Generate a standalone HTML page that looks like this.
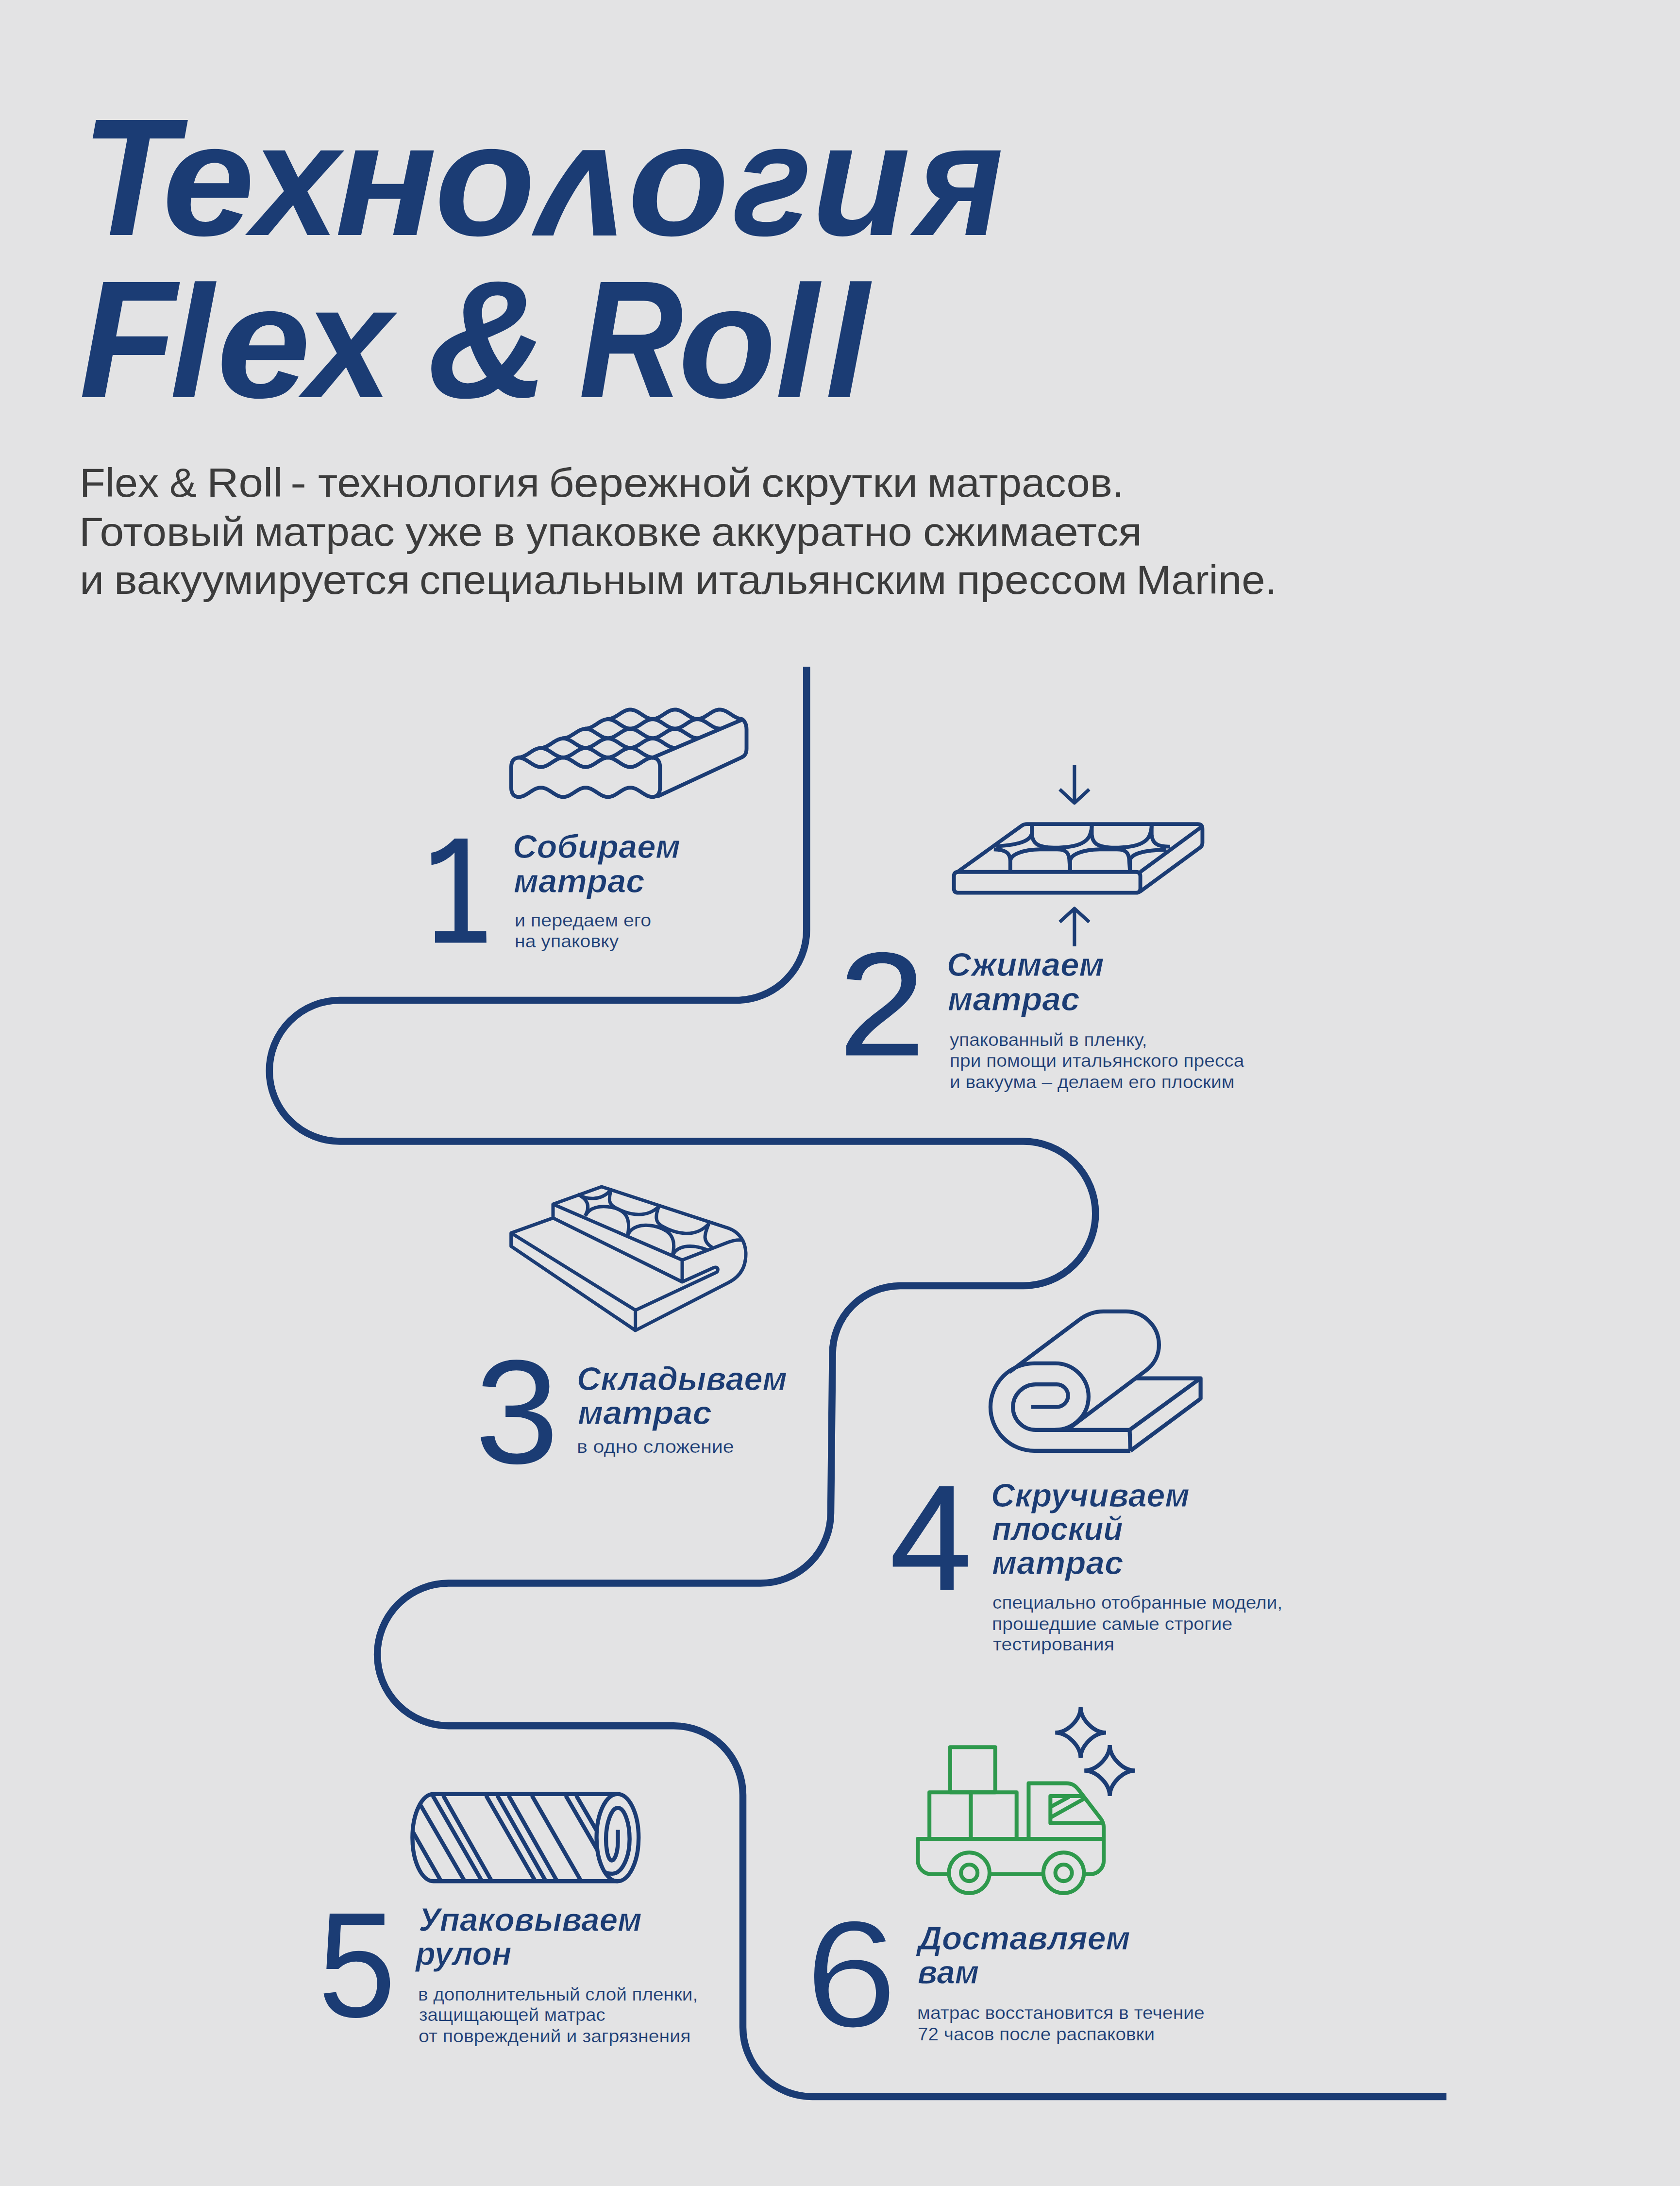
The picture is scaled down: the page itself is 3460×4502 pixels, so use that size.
<!DOCTYPE html>
<html lang="ru"><head><meta charset="utf-8"><title>Технология Flex &amp; Roll</title>
<style>
html,body{margin:0;padding:0}
body{width:3460px;height:4502px;background:#e3e3e4;position:relative;overflow:hidden;font-family:"Liberation Sans",sans-serif}
span{position:absolute;line-height:1;white-space:pre;transform-origin:0 0;display:block}
.ti{font-weight:700;font-style:italic;color:#1b3c74;}.p{color:#3c3c3c;}.h{font-weight:700;font-style:italic;color:#1b3c74;-webkit-text-stroke:1.0px #e3e3e4;}.s{color:#1b3c74;-webkit-text-stroke:0.25px #e3e3e4;}.d{color:#1b3c74;}
.gs::before{content:"s"}
</style></head><body>
<svg width="3460" height="4502" viewBox="0 0 3460 4502" style="position:absolute;left:0;top:0"><path d="M1661.3 1373 V1915 A145 145 0 0 1 1516.3 2060 H700 A145.2 145.2 0 0 0 700 2350.5 H2107.5 A148.7 148.7 0 0 1 2107.5 2648 H1854 A140 140 0 0 0 1714.6 2788 L1711 3115 A145 145 0 0 1 1566 3260.6 H923.7 A146.8 146.8 0 0 0 923.7 3554.2 H1387.5 A142.5 142.5 0 0 1 1530 3696.7 V4175 A143 143 0 0 0 1673 4318 H2979" fill="none" stroke="#1b3c74" stroke-width="14.5"/><g fill="none" stroke="#1b3c74" stroke-width="7.9" stroke-linejoin="round" stroke-linecap="round"><path d="M1067.9 1560.4 L1070.4 1560.5 L1072.9 1561 L1075.4 1561.6 L1077.9 1562.5 L1080.3 1563.7 L1082.8 1565 L1085.3 1566.5 L1087.8 1568 L1090.3 1569.6 L1092.8 1571.3 L1095.3 1572.9 L1097.8 1574.4 L1100.3 1575.8 L1102.7 1577 L1105.2 1578 L1107.7 1578.8 L1110.2 1579.4 L1112.7 1579.7 L1115.2 1579.7 L1117.7 1579.4 L1120.2 1578.8 L1122.7 1578 L1125.2 1577 L1127.6 1575.8 L1130.1 1574.4 L1132.6 1572.9 L1135.1 1571.3 L1137.6 1569.6 L1140.1 1568 L1142.6 1566.5 L1145.1 1565 L1147.6 1563.7 L1150 1562.5 L1152.5 1561.6 L1155 1561 L1157.5 1560.5 L1160 1560.4 L1162.5 1560.5 L1165 1561 L1167.5 1561.6 L1170 1562.5 L1172.4 1563.7 L1174.9 1565 L1177.4 1566.5 L1179.9 1568 L1182.4 1569.6 L1184.9 1571.3 L1187.4 1572.9 L1189.9 1574.4 L1192.4 1575.8 L1194.8 1577 L1197.3 1578 L1199.8 1578.8 L1202.3 1579.4 L1204.8 1579.7 L1207.3 1579.7 L1209.8 1579.4 L1212.3 1578.8 L1214.8 1578 L1217.3 1577 L1219.7 1575.8 L1222.2 1574.4 L1224.7 1572.9 L1227.2 1571.3 L1229.7 1569.6 L1232.2 1568 L1234.7 1566.5 L1237.2 1565 L1239.7 1563.7 L1242.1 1562.5 L1244.6 1561.6 L1247.1 1561 L1249.6 1560.5 L1252.1 1560.4 L1254.6 1560.5 L1257.1 1561 L1259.6 1561.6 L1262.1 1562.5 L1264.5 1563.7 L1267 1565 L1269.5 1566.5 L1272 1568 L1274.5 1569.6 L1277 1571.3 L1279.5 1572.9 L1282 1574.4 L1284.5 1575.8 L1286.9 1577 L1289.4 1578 L1291.9 1578.8 L1294.4 1579.4 L1296.9 1579.7 L1299.4 1579.7 L1301.9 1579.4 L1304.4 1578.8 L1306.9 1578 L1309.4 1577 L1311.8 1575.8 L1314.3 1574.4 L1316.8 1572.9 L1319.3 1571.3 L1321.8 1569.6 L1324.3 1568 L1326.8 1566.5 L1329.3 1565 L1331.8 1563.7 L1334.2 1562.5 L1336.7 1561.6 L1339.2 1561 L1341.7 1560.5 L1344.2 1560.4"/><path d="M1067.9 1559.9 L1070.4 1559.8 L1072.9 1559.3 L1075.4 1558.7 L1077.9 1557.8 L1080.3 1556.6 L1082.8 1555.3 L1085.3 1553.8 L1087.8 1552.3 L1090.3 1550.7 L1092.8 1549 L1095.3 1547.4 L1097.8 1545.9 L1100.3 1544.5 L1102.7 1543.3 L1105.2 1542.3 L1107.7 1541.5 L1110.2 1540.9 L1112.7 1540.6 L1115.2 1540.6 L1117.7 1540.9 L1120.2 1541.5 L1122.7 1542.3 L1125.2 1543.3 L1127.6 1544.5 L1130.1 1545.9 L1132.6 1547.4 L1135.1 1549 L1137.6 1550.7 L1140.1 1552.3 L1142.6 1553.8 L1145.1 1555.3 L1147.6 1556.6 L1150 1557.8 L1152.5 1558.7 L1155 1559.3 L1157.5 1559.8 L1160 1559.9 L1162.5 1559.8 L1165 1559.3 L1167.5 1558.7 L1170 1557.8 L1172.4 1556.6 L1174.9 1555.3 L1177.4 1553.8 L1179.9 1552.3 L1182.4 1550.7 L1184.9 1549 L1187.4 1547.4 L1189.9 1545.9 L1192.4 1544.5 L1194.8 1543.3 L1197.3 1542.3 L1199.8 1541.5 L1202.3 1540.9 L1204.8 1540.6 L1207.3 1540.6 L1209.8 1540.9 L1212.3 1541.5 L1214.8 1542.3 L1217.3 1543.3 L1219.7 1544.5 L1222.2 1545.9 L1224.7 1547.4 L1227.2 1549 L1229.7 1550.7 L1232.2 1552.3 L1234.7 1553.8 L1237.2 1555.3 L1239.7 1556.6 L1242.1 1557.8 L1244.6 1558.7 L1247.1 1559.3 L1249.6 1559.8 L1252.1 1559.9 L1254.6 1559.8 L1257.1 1559.3 L1259.6 1558.7 L1262.1 1557.8 L1264.5 1556.6 L1267 1555.3 L1269.5 1553.8 L1272 1552.3 L1274.5 1550.7 L1277 1549 L1279.5 1547.4 L1282 1545.9 L1284.5 1544.5 L1286.9 1543.3 L1289.4 1542.3 L1291.9 1541.5 L1294.4 1540.9 L1296.9 1540.6 L1299.4 1540.6 L1301.9 1540.9 L1304.4 1541.5 L1306.9 1542.3 L1309.4 1543.3 L1311.8 1544.5 L1314.3 1545.9 L1316.8 1547.4 L1319.3 1549 L1321.8 1550.7 L1324.3 1552.3 L1326.8 1553.8 L1329.3 1555.3 L1331.8 1556.6 L1334.2 1557.8 L1336.7 1558.7 L1339.2 1559.3 L1341.7 1559.8 L1344.2 1559.9"/><path d="M1114 1540.1 L1116.4 1540 L1118.9 1539.5 L1121.4 1538.9 L1123.9 1538 L1126.4 1536.8 L1128.9 1535.5 L1131.4 1534 L1133.9 1532.5 L1136.4 1530.9 L1138.8 1529.2 L1141.3 1527.6 L1143.8 1526.1 L1146.3 1524.7 L1148.8 1523.5 L1151.3 1522.5 L1153.8 1521.7 L1156.3 1521.1 L1158.8 1520.8 L1161.2 1520.8 L1163.7 1521.1 L1166.2 1521.7 L1168.7 1522.5 L1171.2 1523.5 L1173.7 1524.7 L1176.2 1526.1 L1178.7 1527.6 L1181.2 1529.2 L1183.6 1530.9 L1186.1 1532.5 L1188.6 1534 L1191.1 1535.5 L1193.6 1536.8 L1196.1 1538 L1198.6 1538.9 L1201.1 1539.5 L1203.6 1540 L1206 1540.1 L1208.5 1540 L1211 1539.5 L1213.5 1538.9 L1216 1538 L1218.5 1536.8 L1221 1535.5 L1223.5 1534 L1226 1532.5 L1228.5 1530.9 L1230.9 1529.2 L1233.4 1527.6 L1235.9 1526.1 L1238.4 1524.7 L1240.9 1523.5 L1243.4 1522.5 L1245.9 1521.7 L1248.4 1521.1 L1250.9 1520.8 L1253.3 1520.8 L1255.8 1521.1 L1258.3 1521.7 L1260.8 1522.5 L1263.3 1523.5 L1265.8 1524.7 L1268.3 1526.1 L1270.8 1527.6 L1273.3 1529.2 L1275.7 1530.9 L1278.2 1532.5 L1280.7 1534 L1283.2 1535.5 L1285.7 1536.8 L1288.2 1538 L1290.7 1538.9 L1293.2 1539.5 L1295.7 1540 L1298.2 1540.1 L1300.6 1540 L1303.1 1539.5 L1305.6 1538.9 L1308.1 1538 L1310.6 1536.8 L1313.1 1535.5 L1315.6 1534 L1318.1 1532.5 L1320.6 1530.9 L1323 1529.2 L1325.5 1527.6 L1328 1526.1 L1330.5 1524.7 L1333 1523.5 L1335.5 1522.5 L1338 1521.7 L1340.5 1521.1 L1343 1520.8 L1345.4 1520.8 L1347.9 1521.1 L1350.4 1521.7 L1352.9 1522.5 L1355.4 1523.5 L1357.9 1524.7 L1360.4 1526.1 L1362.9 1527.6 L1365.4 1529.2 L1367.8 1530.9 L1370.3 1532.5 L1372.8 1534 L1375.3 1535.5 L1377.8 1536.8 L1380.3 1538 L1382.8 1538.9 L1385.3 1539.5 L1387.8 1540 L1390.2 1540.1"/><path d="M1160 1520.3 L1162.5 1520.2 L1165 1519.7 L1167.5 1519.1 L1170 1518.2 L1172.4 1517 L1174.9 1515.7 L1177.4 1514.2 L1179.9 1512.7 L1182.4 1511.1 L1184.9 1509.4 L1187.4 1507.8 L1189.9 1506.3 L1192.4 1504.9 L1194.8 1503.7 L1197.3 1502.7 L1199.8 1501.9 L1202.3 1501.3 L1204.8 1501 L1207.3 1501 L1209.8 1501.3 L1212.3 1501.9 L1214.8 1502.7 L1217.3 1503.7 L1219.7 1504.9 L1222.2 1506.3 L1224.7 1507.8 L1227.2 1509.4 L1229.7 1511.1 L1232.2 1512.7 L1234.7 1514.2 L1237.2 1515.7 L1239.7 1517 L1242.1 1518.2 L1244.6 1519.1 L1247.1 1519.7 L1249.6 1520.2 L1252.1 1520.3 L1254.6 1520.2 L1257.1 1519.7 L1259.6 1519.1 L1262.1 1518.2 L1264.5 1517 L1267 1515.7 L1269.5 1514.2 L1272 1512.7 L1274.5 1511.1 L1277 1509.4 L1279.5 1507.8 L1282 1506.3 L1284.5 1504.9 L1286.9 1503.7 L1289.4 1502.7 L1291.9 1501.9 L1294.4 1501.3 L1296.9 1501 L1299.4 1501 L1301.9 1501.3 L1304.4 1501.9 L1306.9 1502.7 L1309.4 1503.7 L1311.8 1504.9 L1314.3 1506.3 L1316.8 1507.8 L1319.3 1509.4 L1321.8 1511.1 L1324.3 1512.7 L1326.8 1514.2 L1329.3 1515.7 L1331.8 1517 L1334.2 1518.2 L1336.7 1519.1 L1339.2 1519.7 L1341.7 1520.2 L1344.2 1520.3 L1346.7 1520.2 L1349.2 1519.7 L1351.7 1519.1 L1354.2 1518.2 L1356.6 1517 L1359.1 1515.7 L1361.6 1514.2 L1364.1 1512.7 L1366.6 1511.1 L1369.1 1509.4 L1371.6 1507.8 L1374.1 1506.3 L1376.6 1504.9 L1379 1503.7 L1381.5 1502.7 L1384 1501.9 L1386.5 1501.3 L1389 1501 L1391.5 1501 L1394 1501.3 L1396.5 1501.9 L1399 1502.7 L1401.5 1503.7 L1403.9 1504.9 L1406.4 1506.3 L1408.9 1507.8 L1411.4 1509.4 L1413.9 1511.1 L1416.4 1512.7 L1418.9 1514.2 L1421.4 1515.7 L1423.9 1517 L1426.3 1518.2 L1428.8 1519.1 L1431.3 1519.7 L1433.8 1520.2 L1436.3 1520.3"/><path d="M1206.1 1500.5 L1208.5 1500.4 L1211 1499.9 L1213.5 1499.3 L1216 1498.4 L1218.5 1497.2 L1221 1495.9 L1223.5 1494.4 L1226 1492.9 L1228.5 1491.3 L1230.9 1489.6 L1233.4 1488 L1235.9 1486.5 L1238.4 1485.1 L1240.9 1483.9 L1243.4 1482.9 L1245.9 1482.1 L1248.4 1481.5 L1250.9 1481.2 L1253.3 1481.2 L1255.8 1481.5 L1258.3 1482.1 L1260.8 1482.9 L1263.3 1483.9 L1265.8 1485.1 L1268.3 1486.5 L1270.8 1488 L1273.3 1489.6 L1275.7 1491.3 L1278.2 1492.9 L1280.7 1494.4 L1283.2 1495.9 L1285.7 1497.2 L1288.2 1498.4 L1290.7 1499.3 L1293.2 1499.9 L1295.7 1500.4 L1298.2 1500.5 L1300.6 1500.4 L1303.1 1499.9 L1305.6 1499.3 L1308.1 1498.4 L1310.6 1497.2 L1313.1 1495.9 L1315.6 1494.4 L1318.1 1492.9 L1320.6 1491.3 L1323 1489.6 L1325.5 1488 L1328 1486.5 L1330.5 1485.1 L1333 1483.9 L1335.5 1482.9 L1338 1482.1 L1340.5 1481.5 L1343 1481.2 L1345.4 1481.2 L1347.9 1481.5 L1350.4 1482.1 L1352.9 1482.9 L1355.4 1483.9 L1357.9 1485.1 L1360.4 1486.5 L1362.9 1488 L1365.4 1489.6 L1367.8 1491.3 L1370.3 1492.9 L1372.8 1494.4 L1375.3 1495.9 L1377.8 1497.2 L1380.3 1498.4 L1382.8 1499.3 L1385.3 1499.9 L1387.8 1500.4 L1390.3 1500.5 L1392.7 1500.4 L1395.2 1499.9 L1397.7 1499.3 L1400.2 1498.4 L1402.7 1497.2 L1405.2 1495.9 L1407.7 1494.4 L1410.2 1492.9 L1412.7 1491.3 L1415.1 1489.6 L1417.6 1488 L1420.1 1486.5 L1422.6 1485.1 L1425.1 1483.9 L1427.6 1482.9 L1430.1 1482.1 L1432.6 1481.5 L1435.1 1481.2 L1437.5 1481.2 L1440 1481.5 L1442.5 1482.1 L1445 1482.9 L1447.5 1483.9 L1450 1485.1 L1452.5 1486.5 L1455 1488 L1457.5 1489.6 L1459.9 1491.3 L1462.4 1492.9 L1464.9 1494.4 L1467.4 1495.9 L1469.9 1497.2 L1472.4 1498.4 L1474.9 1499.3 L1477.4 1499.9 L1479.9 1500.4 L1482.4 1500.5"/><path d="M1252.1 1480.7 L1254.6 1480.6 L1257.1 1480.1 L1259.6 1479.5 L1262.1 1478.5 L1264.6 1477.4 L1267.1 1476 L1269.7 1474.6 L1272.2 1473 L1274.7 1471.4 L1277.2 1469.7 L1279.7 1468.1 L1282.2 1466.6 L1284.7 1465.2 L1287.2 1464 L1289.7 1463 L1292.2 1462.2 L1294.7 1461.7 L1297.2 1461.4 L1299.7 1461.5 L1302.2 1461.8 L1304.8 1462.4 L1307.3 1463.2 L1309.8 1464.3 L1312.3 1465.5 L1314.8 1467 L1317.3 1468.5 L1319.8 1470.1 L1322.3 1471.8 L1324.8 1473.4 L1327.3 1475 L1329.8 1476.4 L1332.3 1477.7 L1334.8 1478.8 L1337.3 1479.7 L1339.9 1480.3 L1342.4 1480.6 L1344.9 1480.7 L1347.4 1480.5 L1349.9 1480 L1352.4 1479.2 L1354.9 1478.2 L1357.4 1477 L1359.9 1475.7 L1362.4 1474.2 L1364.9 1472.6 L1367.4 1470.9 L1369.9 1469.3 L1372.5 1467.7 L1375 1466.2 L1377.5 1464.8 L1380 1463.7 L1382.5 1462.7 L1385 1462 L1387.5 1461.6 L1390 1461.4 L1392.5 1461.5 L1395 1461.9 L1397.5 1462.6 L1400 1463.5 L1402.5 1464.6 L1405 1465.9 L1407.6 1467.4 L1410.1 1469 L1412.6 1470.6 L1415.1 1472.2 L1417.6 1473.8 L1420.1 1475.4 L1422.6 1476.8 L1425.1 1478 L1427.6 1479.1 L1430.1 1479.9 L1432.6 1480.4 L1435.1 1480.7 L1437.6 1480.7 L1440.2 1480.4 L1442.7 1479.8 L1445.2 1479 L1447.7 1477.9 L1450.2 1476.7 L1452.7 1475.3 L1455.2 1473.7 L1457.7 1472.1 L1460.2 1470.5 L1462.7 1468.8 L1465.2 1467.3 L1467.7 1465.8 L1470.2 1464.5 L1472.7 1463.4 L1475.3 1462.5 L1477.8 1461.9 L1480.3 1461.5 L1482.8 1461.4 L1485.3 1461.6 L1487.8 1462.1 L1490.3 1462.8 L1492.8 1463.8 L1495.3 1464.9 L1497.8 1466.3 L1500.3 1467.8 L1502.8 1469.4 L1505.3 1471 L1507.8 1472.7 L1510.4 1474.3 L1512.9 1475.8 L1515.4 1477.1 L1517.9 1478.3 L1520.4 1479.3 L1522.9 1480 L1525.4 1480.5"/><path d="M1067.9 1641.4 L1070.2 1641.3 L1072.5 1640.9 L1074.8 1640.3 L1077.1 1639.6 L1079.4 1638.6 L1081.7 1637.4 L1084 1636.1 L1086.3 1634.7 L1088.6 1633.3 L1090.9 1631.8 L1093.2 1630.2 L1095.5 1628.8 L1097.8 1627.4 L1100.1 1626.1 L1102.4 1624.9 L1104.7 1623.9 L1107 1623.2 L1109.3 1622.6 L1111.6 1622.2 L1114 1622.1 L1116.3 1622.2 L1118.6 1622.6 L1120.9 1623.2 L1123.2 1623.9 L1125.5 1624.9 L1127.8 1626.1 L1130.1 1627.4 L1132.4 1628.8 L1134.7 1630.2 L1137 1631.8 L1139.3 1633.3 L1141.6 1634.7 L1143.9 1636.1 L1146.2 1637.4 L1148.5 1638.6 L1150.8 1639.6 L1153.1 1640.3 L1155.4 1640.9 L1157.7 1641.3 L1160 1641.4 L1162.3 1641.3 L1164.6 1640.9 L1166.9 1640.3 L1169.2 1639.6 L1171.5 1638.6 L1173.8 1637.4 L1176.1 1636.1 L1178.4 1634.7 L1180.7 1633.3 L1183 1631.8 L1185.3 1630.2 L1187.6 1628.8 L1189.9 1627.4 L1192.2 1626.1 L1194.5 1624.9 L1196.8 1623.9 L1199.1 1623.2 L1201.4 1622.6 L1203.7 1622.2 L1206.1 1622.1 L1208.4 1622.2 L1210.7 1622.6 L1213 1623.2 L1215.3 1623.9 L1217.6 1624.9 L1219.9 1626.1 L1222.2 1627.4 L1224.5 1628.8 L1226.8 1630.2 L1229.1 1631.8 L1231.4 1633.3 L1233.7 1634.7 L1236 1636.1 L1238.3 1637.4 L1240.6 1638.6 L1242.9 1639.6 L1245.2 1640.3 L1247.5 1640.9 L1249.8 1641.3 L1252.1 1641.4 L1254.4 1641.3 L1256.7 1640.9 L1259 1640.3 L1261.3 1639.6 L1263.6 1638.6 L1265.9 1637.4 L1268.2 1636.1 L1270.5 1634.7 L1272.8 1633.3 L1275.1 1631.8 L1277.4 1630.2 L1279.7 1628.8 L1282 1627.4 L1284.3 1626.1 L1286.6 1624.9 L1288.9 1623.9 L1291.2 1623.2 L1293.5 1622.6 L1295.8 1622.2 L1298.2 1622.1 L1300.5 1622.2 L1302.8 1622.6 L1305.1 1623.2 L1307.4 1623.9 L1309.7 1624.9 L1312 1626.1 L1314.3 1627.4 L1316.6 1628.8 L1318.9 1630.2 L1321.2 1631.8 L1323.5 1633.3 L1325.8 1634.7 L1328.1 1636.1 L1330.4 1637.4 L1332.7 1638.6 L1335 1639.6 L1337.3 1640.3 L1339.6 1640.9 L1341.9 1641.3 L1344.2 1641.4"/><path d="M1067.9 1560.4 C1058 1561 1052.9 1568 1052.9 1580 V1622 C1052.9 1634 1058 1641 1067.9 1641.4"/><path d="M1344.2 1560.4 C1354 1561 1359.3 1568 1359.3 1580 V1622 C1359.3 1634 1354 1641 1344.2 1641.4"/><path d="M1344.2 1560.4 L1525.4 1483.5"/><path d="M1525.4 1480.5 C1530 1480.5 1537.5 1488 1537.5 1502 V1542 C1537.5 1552 1534 1557 1527 1560 L1355.5 1639.6"/></g><g transform="translate(1920 1540) scale(0.35714)" fill="none" stroke="#1b3c74" stroke-width="22" stroke-linejoin="round" ><path d="M150 716 H1175 Q1200 716 1200 741 V811 Q1200 836 1175 836 H150 Q125 836 125 811 V741 Q125 716 150 716Z"/><path d="M140 720 L518 448 Q530 440 545 440 H1530 Q1558 440 1558 468 V548 Q1558 565 1545 575 L1195 832"/><path d="M1200 716 L1550 458"/><path d="M575 446 V500 C578 545 600 575 700 576 C800 577 890 560 910 500 C917 480 920 460 920 446"/><path d="M920 446 V500 C923 545 945 575 1045 576 C1145 577 1235 560 1255 500 C1262 480 1265 460 1265 446"/><path d="M1265 446 V500 C1268 545 1290 572 1372 570"/><path d="M575 446 V490 C570 530 520 560 368 568"/><path d="M450 712 V650 C455 615 520 588 620 586 H720 C765 586 785 600 790 640 L795 712"/><path d="M795 712 V650 C800 615 865 588 965 586 H1065 C1110 586 1130 600 1135 640 L1140 712"/><path d="M1140 712 V650 C1145 615 1210 590 1350 588"/><path d="M450 650 C448 610 430 588 355 586"/><path d="M820 100 V315 M735 240 L820 318 L905 240 M820 1145 V930 M735 1005 L820 927 L905 1005" stroke-width="20"/></g><g transform="translate(1020 2420) scale(0.33333)" fill="none" stroke="#1b3c74" stroke-width="21" stroke-linejoin="round" ><path d="M357 265 L98 358 V440 L866 960 L1440 665 C1520 625 1550 560 1548 480 C1545 400 1500 350 1440 328 L657 72 L357 180 V265"/><path d="M98 358 L866 835 V960"/><path d="M1155 660 L1350 572 Q1375 565 1375 585 Q1375 598 1360 604 L866 835"/><path d="M357 180 L1155 525 V660 L357 265"/><path d="M1155 525 L1440 415 C1480 400 1510 398 1535 405"/><path d="M510 118 C560 150 650 165 715 92"/><path d="M510 118 C570 150 590 190 555 252"/><path d="M715 92 C700 150 700 180 740 200 C800 235 920 280 1010 195"/><path d="M557 252 C580 200 650 185 720 200 C800 215 840 260 818 372"/><path d="M1010 195 C990 250 985 290 1030 315 C1100 355 1230 400 1320 300"/><path d="M818 372 C840 320 900 300 980 315 C1070 335 1125 380 1095 497"/><path d="M1320 300 C1290 370 1280 410 1340 447"/><path d="M1095 497 C1120 440 1200 420 1310 462"/></g><g transform="translate(2000 2670) scale(0.30952)" fill="none" stroke="#1b3c74" stroke-width="26.5" stroke-linejoin="round" ><path d="M400 735 H570 A75 75 0 0 0 570 585 H430 A151.5 151.5 0 0 0 430 888 H1055"/><path d="M560 888 A221.5 221.5 0 0 0 560 445 H420 A291 291 0 0 0 420 1027 H1060"/><path d="M1055 888 L1060 1027"/><path d="M1055 888 L1525 545"/><path d="M1090 545 H1527 V680 L1060 1027"/><path d="M255 503 L720 155 C770 118 820 100 880 100 H1030 C1150 100 1250 200 1250 322 C1250 395 1215 455 1160 495 L660 872"/></g><g transform="translate(820 3670) scale(0.30952)" fill="none" stroke="#1b3c74" stroke-width="27" stroke-linejoin="round" ><path d="M1460 80 H235 A140 290 0 0 0 235 660 H1460"/><ellipse cx="1460" cy="370" rx="140" ry="290"/><path d="M100 335 L280 650 M150 155 L440 655 M230 90 L555 655 M300 90 L620 655 M585 90 L910 655 M660 90 L980 655 M735 90 L1055 655 M890 90 L1215 655 M1115 90 L1325 452 M1185 90 L1322 326"/><path d="M1462 318 V400 C1462 470 1440 522 1422 522 C1395 522 1383 440 1383 380 C1383 270 1420 172 1462 172 C1505 172 1540 270 1540 380 C1540 500 1490 610 1425 610 C1405 610 1385 606 1373 597"/></g><g transform="translate(1860 3490) scale(0.30952)" fill="none" stroke="#2e994c" stroke-width="26" stroke-linejoin="round" ><path d="M1335 960 H98 V1105 A90 90 0 0 0 188 1195 H300 M580 1195 H925 M1210 1195 H1245 A90 90 0 0 0 1335 1105 V885"/><path d="M835 960 V590 H1085 C1125 590 1145 605 1165 630 L1315 825 C1330 845 1335 865 1335 885"/><path d="M1195 675 H980 V855 H1330"/><path d="M980 748 L1105 680"/><path d="M980 818 L1205 692"/><circle cx="440" cy="1186" r="135"/><circle cx="440" cy="1186" r="55"/><circle cx="1068" cy="1186" r="135"/><circle cx="1068" cy="1186" r="55"/><rect x="175" y="650" width="275" height="310"/><rect x="450" y="650" width="305" height="310"/><rect x="313" y="350" width="300" height="300"/></g><g transform="translate(1860 3490) scale(0.30952)" fill="none" stroke="#1b3c74" stroke-width="27" stroke-linejoin="bevel" ><path d="M1181.2 84 C1181.2 165.3 1269.2 253.3 1350.5 253.3 C1269.2 253.3 1181.2 341.3 1181.2 422.6 C1181.2 341.3 1093.2 253.3 1011.9 253.3 C1093.2 253.3 1181.2 165.3 1181.2 84Z"/><path d="M1375 336.3 C1375 417.6 1463 505.6 1544.3 505.6 C1463 505.6 1375 593.6 1375 674.9 C1375 593.6 1287 505.6 1205.7 505.6 C1287 505.6 1375 417.6 1375 336.3Z"/></g><g transform="translate(860 1700) scale(0.11896)"><path d="M640 228 H865 L870 1828 H1188 L1192 2030 H302 V1828 H640 V468 C540 580 370 672 240 682 L237 472 C370 460 520 350 640 228Z" fill="#1b3c74"/></g><g transform="translate(650 230) scale(0.41667)"><path d="M1068 612 C1130 450 1230 290 1320 190 L1430 190 L1487 612 L1373 612 L1350 290 C1290 370 1220 480 1175 612Z" fill="#1b3c74"/></g></svg>
<div><span class="ti" style="left:167.5px;top:193.4px;font-size:344.5px;transform:scale(0.9329,1.0000);transform-origin:0 291.6px">Т</span><span class="ti" style="left:333.7px;top:193.4px;font-size:344.5px;transform:scale(0.9942,0.9570);transform-origin:0 291.6px">е</span><span class="ti" style="left:519.0px;top:193.4px;font-size:344.5px;transform:scale(0.9358,0.9570);transform-origin:0 291.6px">х</span><span class="ti" style="left:689.7px;top:193.4px;font-size:344.5px;transform:scale(1.0108,0.9570);transform-origin:0 291.6px">н</span><span class="ti" style="left:894.6px;top:193.4px;font-size:344.5px;transform:scale(0.9862,0.9570);transform-origin:0 291.6px">о</span><span class="ti" style="left:1106.0px;top:193.4px;font-size:344.5px;visibility:hidden;transform:scale(0.7865,0.9570);transform-origin:0 291.6px">л</span><span class="ti" style="left:1293.3px;top:193.4px;font-size:344.5px;transform:scale(0.9926,0.9570);transform-origin:0 291.6px">о</span><span style="visibility:hidden">г</span><span class="ti gs" style="left:1654.1px;top:193.4px;font-size:344.5px;font-style:normal;transform:scale(0.8429,0.9570) skewX(-12deg) scaleX(-1);transform-origin:0 291.6px"></span><span class="ti" style="left:1671.9px;top:193.4px;font-size:344.5px;transform:scale(0.9653,0.9570);transform-origin:0 291.6px">и</span><span class="ti" style="left:1888.2px;top:193.4px;font-size:344.5px;transform:scale(0.8792,0.9570);transform-origin:0 291.6px">я</span></div>
<div><span class="ti" style="left:163.1px;top:526.7px;font-size:344.5px;transform:scale(0.9528,1.0000);transform-origin:0 291.6px">F</span><span class="ti" style="left:349.7px;top:526.7px;font-size:344.5px;transform:scale(0.9432,0.9570);transform-origin:0 291.6px">l</span><span class="ti" style="left:446.4px;top:526.7px;font-size:344.5px;transform:scale(1.0111,0.9570);transform-origin:0 291.6px">e</span><span class="ti" style="left:627.8px;top:526.7px;font-size:344.5px;transform:scale(0.9362,0.9570);transform-origin:0 291.6px">x</span> <span class="ti" style="left:879.5px;top:526.7px;font-size:344.5px;transform:scale(1.0037,1.0000);transform-origin:0 291.6px">&amp;</span> <span class="ti" style="left:1191.8px;top:526.7px;font-size:344.5px;transform:scale(0.8642,1.0000);transform-origin:0 291.6px">R</span><span class="ti" style="left:1396.9px;top:526.7px;font-size:344.5px;transform:scale(0.9580,0.9570);transform-origin:0 291.6px">o</span><span class="ti" style="left:1597.4px;top:526.7px;font-size:344.5px;transform:scale(0.9337,0.9570);transform-origin:0 291.6px">l</span><span class="ti" style="left:1700.1px;top:526.7px;font-size:344.5px;transform:scale(0.9400,0.9570);transform-origin:0 291.6px">l</span></div>
<div><span class="p" style="left:163.5px;top:953.2px;font-size:82.5px;transform:scale(1.0466,1.0000);transform-origin:0 69.8px">Flex</span> <span class="p" style="left:349.4px;top:953.2px;font-size:82.5px;transform:scale(1.0196,1.0000);transform-origin:0 69.8px">&amp;</span> <span class="p" style="left:426.2px;top:953.2px;font-size:82.5px;transform:scale(1.1008,1.0000);transform-origin:0 69.8px">Roll</span> <span class="p" style="left:597.9px;top:953.2px;font-size:82.5px;transform:scale(1.2050,1.0000);transform-origin:0 69.8px">-</span> <span class="p" style="left:655.1px;top:953.2px;font-size:82.5px;transform:scale(1.0665,1.0000);transform-origin:0 69.8px">технология</span> <span class="p" style="left:1130.1px;top:953.2px;font-size:82.5px;transform:scale(1.1156,1.0000);transform-origin:0 69.8px">бережной</span> <span class="p" style="left:1567.8px;top:953.2px;font-size:82.5px;transform:scale(1.1372,1.0000);transform-origin:0 69.8px">скрутки</span> <span class="p" style="left:1909.8px;top:953.2px;font-size:82.5px;transform:scale(1.0511,1.0000);transform-origin:0 69.8px">матрасов.</span></div>
<div><span class="p" style="left:163.2px;top:1053.8px;font-size:82.5px;transform:scale(1.0841,1.0000);transform-origin:0 69.8px">Готовый</span> <span class="p" style="left:522.9px;top:1053.8px;font-size:82.5px;transform:scale(1.0673,1.0000);transform-origin:0 69.8px">матрас</span> <span class="p" style="left:834.6px;top:1053.8px;font-size:82.5px;transform:scale(1.1109,1.0000);transform-origin:0 69.8px">уже</span> <span class="p" style="left:1015.0px;top:1053.8px;font-size:82.5px;transform:scale(1.0500,1.0000);transform-origin:0 69.8px">в</span> <span class="p" style="left:1083.7px;top:1053.8px;font-size:82.5px;transform:scale(1.0570,1.0000);transform-origin:0 69.8px">упаковке</span> <span class="p" style="left:1464.5px;top:1053.8px;font-size:82.5px;transform:scale(1.0927,1.0000);transform-origin:0 69.8px">аккуратно</span> <span class="p" style="left:1901.0px;top:1053.8px;font-size:82.5px;transform:scale(1.0953,1.0000);transform-origin:0 69.8px">сжимается</span></div>
<div><span class="p" style="left:164.3px;top:1152.8px;font-size:82.5px;transform:scale(1.0912,1.0000);transform-origin:0 69.8px">и</span> <span class="p" style="left:234.6px;top:1152.8px;font-size:82.5px;transform:scale(1.0860,1.0000);transform-origin:0 69.8px">вакуумируется</span> <span class="p" style="left:863.7px;top:1152.8px;font-size:82.5px;transform:scale(1.0422,1.0000);transform-origin:0 69.8px">специальным</span> <span class="p" style="left:1432.1px;top:1152.8px;font-size:82.5px;transform:scale(1.0553,1.0000);transform-origin:0 69.8px">итальянским</span> <span class="p" style="left:1969.6px;top:1152.8px;font-size:82.5px;transform:scale(1.0904,1.0000);transform-origin:0 69.8px">прессом</span> <span class="p" style="left:2339.9px;top:1152.8px;font-size:82.5px;transform:scale(1.0529,1.0000);transform-origin:0 69.8px">Marine.</span></div>
<span class="d" style="left:867.0px;top:1677.9px;font-size:311px;visibility:hidden;transform:scale(0.8522,1.0000);transform-origin:0 263.3px">1</span>
<span class="h" style="left:1056.0px;top:1708.6px;font-size:69px;transform:scale(0.9953,1.0000);transform-origin:0 58.4px">Собираем</span>
<span class="h" style="left:1058.0px;top:1779.5px;font-size:69px;transform:scale(1.0000,1.0000);transform-origin:0 58.4px">матрас</span>
<span class="s" style="left:1059.6px;top:1877.0px;font-size:37px;transform:scale(1.0646,1.0000);transform-origin:0 31.3px">и передаем его</span>
<span class="s" style="left:1059.6px;top:1919.5px;font-size:37px;transform:scale(1.0598,1.0000);transform-origin:0 31.3px">на упаковку</span>
<span class="d" style="left:1727.2px;top:1910.4px;font-size:311px;-webkit-text-stroke:1.2px #1b3c74;transform:scale(1.0343,0.9753);transform-origin:0 263.3px">2</span>
<span class="h" style="left:1950.0px;top:1952.0px;font-size:69px;transform:scale(1.0041,1.0000);transform-origin:0 58.4px">Сжимаем</span>
<span class="h" style="left:1952.0px;top:2023.1px;font-size:69px;transform:scale(1.0075,1.0000);transform-origin:0 58.4px">матрас</span>
<span class="s" style="left:1956.3px;top:2123.1px;font-size:37px;transform:scale(1.0459,1.0000);transform-origin:0 31.3px">упакованный в пленку,</span>
<span class="s" style="left:1955.7px;top:2166.3px;font-size:37px;transform:scale(1.0516,1.0000);transform-origin:0 31.3px">при помощи итальянского пресса</span>
<span class="s" style="left:1955.7px;top:2209.5px;font-size:37px;transform:scale(1.0509,1.0000);transform-origin:0 31.3px">и вакуума – делаем его плоским</span>
<span class="d" style="left:978.0px;top:2750.1px;font-size:311px;transform:scale(1.0000,0.9795);transform-origin:0 263.3px">3</span>
<span class="h" style="left:1188.3px;top:2804.9px;font-size:69px;transform:scale(0.9887,1.0000);transform-origin:0 58.4px">Складываем</span>
<span class="h" style="left:1190.0px;top:2874.5px;font-size:69px;transform:scale(1.0225,1.0000);transform-origin:0 58.4px">матрас</span>
<span class="s" style="left:1187.7px;top:2960.7px;font-size:37px;transform:scale(1.1154,1.0000);transform-origin:0 31.3px">в одно сложение</span>
<span class="d" style="left:1832.8px;top:3010.3px;font-size:311px;-webkit-text-stroke:2.5px #1b3c74;transform:scale(0.9704,0.9847);transform-origin:0 263.3px">4</span>
<span class="h" style="left:2040.8px;top:3044.6px;font-size:69px;transform:scale(0.9863,1.0000);transform-origin:0 58.4px">Скручиваем</span>
<span class="h" style="left:2042.9px;top:3114.3px;font-size:69px;transform:scale(0.9496,1.0000);transform-origin:0 58.4px">плоский</span>
<span class="h" style="left:2042.8px;top:3183.9px;font-size:69px;transform:scale(1.0030,1.0000);transform-origin:0 58.4px">матрас</span>
<span class="s" style="left:2044.3px;top:3281.7px;font-size:37px;transform:scale(1.0478,1.0000);transform-origin:0 31.3px">специально отобранные модели,</span>
<span class="s" style="left:2043.2px;top:3325.6px;font-size:37px;transform:scale(1.0610,1.0000);transform-origin:0 31.3px">прошедшие самые строгие</span>
<span class="s" style="left:2045.3px;top:3368.4px;font-size:37px;transform:scale(1.0625,1.0000);transform-origin:0 31.3px">тестирования</span>
<span class="d" style="left:654.6px;top:3889.8px;font-size:311px;transform:scale(0.9265,0.9908);transform-origin:0 263.3px">5</span>
<span class="h" style="left:861.8px;top:3919.2px;font-size:69px;transform:scale(0.9746,1.0000);transform-origin:0 58.4px">Упаковываем</span>
<span class="h" style="left:856.0px;top:3989.3px;font-size:69px;transform:scale(0.9657,1.0000);transform-origin:0 58.4px">рулон</span>
<span class="s" style="left:860.6px;top:4089.0px;font-size:37px;transform:scale(1.0455,1.0000);transform-origin:0 31.3px">в дополнительный слой пленки,</span>
<span class="s" style="left:862.7px;top:4131.1px;font-size:37px;transform:scale(1.0350,1.0000);transform-origin:0 31.3px">защищающей матрас</span>
<span class="s" style="left:861.6px;top:4174.7px;font-size:37px;transform:scale(1.0609,1.0000);transform-origin:0 31.3px">от повреждений и загрязнения</span>
<span class="d" style="left:1657.7px;top:3911.3px;font-size:311px;-webkit-text-stroke:3px #e3e3e4;transform:scale(1.0979,1.0074);transform-origin:0 263.3px">6</span>
<span class="h" style="left:1890.9px;top:3957.0px;font-size:69px;transform:scale(0.9815,1.0000);transform-origin:0 58.4px">Доставляем</span>
<span class="h" style="left:1889.7px;top:4026.6px;font-size:69px;transform:scale(0.9711,1.0000);transform-origin:0 58.4px">вам</span>
<span class="s" style="left:1888.6px;top:4127.0px;font-size:37px;transform:scale(1.0568,1.0000);transform-origin:0 31.3px">матрас восстановится в течение</span>
<span class="s" style="left:1889.7px;top:4170.9px;font-size:37px;transform:scale(1.0470,1.0000);transform-origin:0 31.3px">72 часов после распаковки</span>
</body></html>
